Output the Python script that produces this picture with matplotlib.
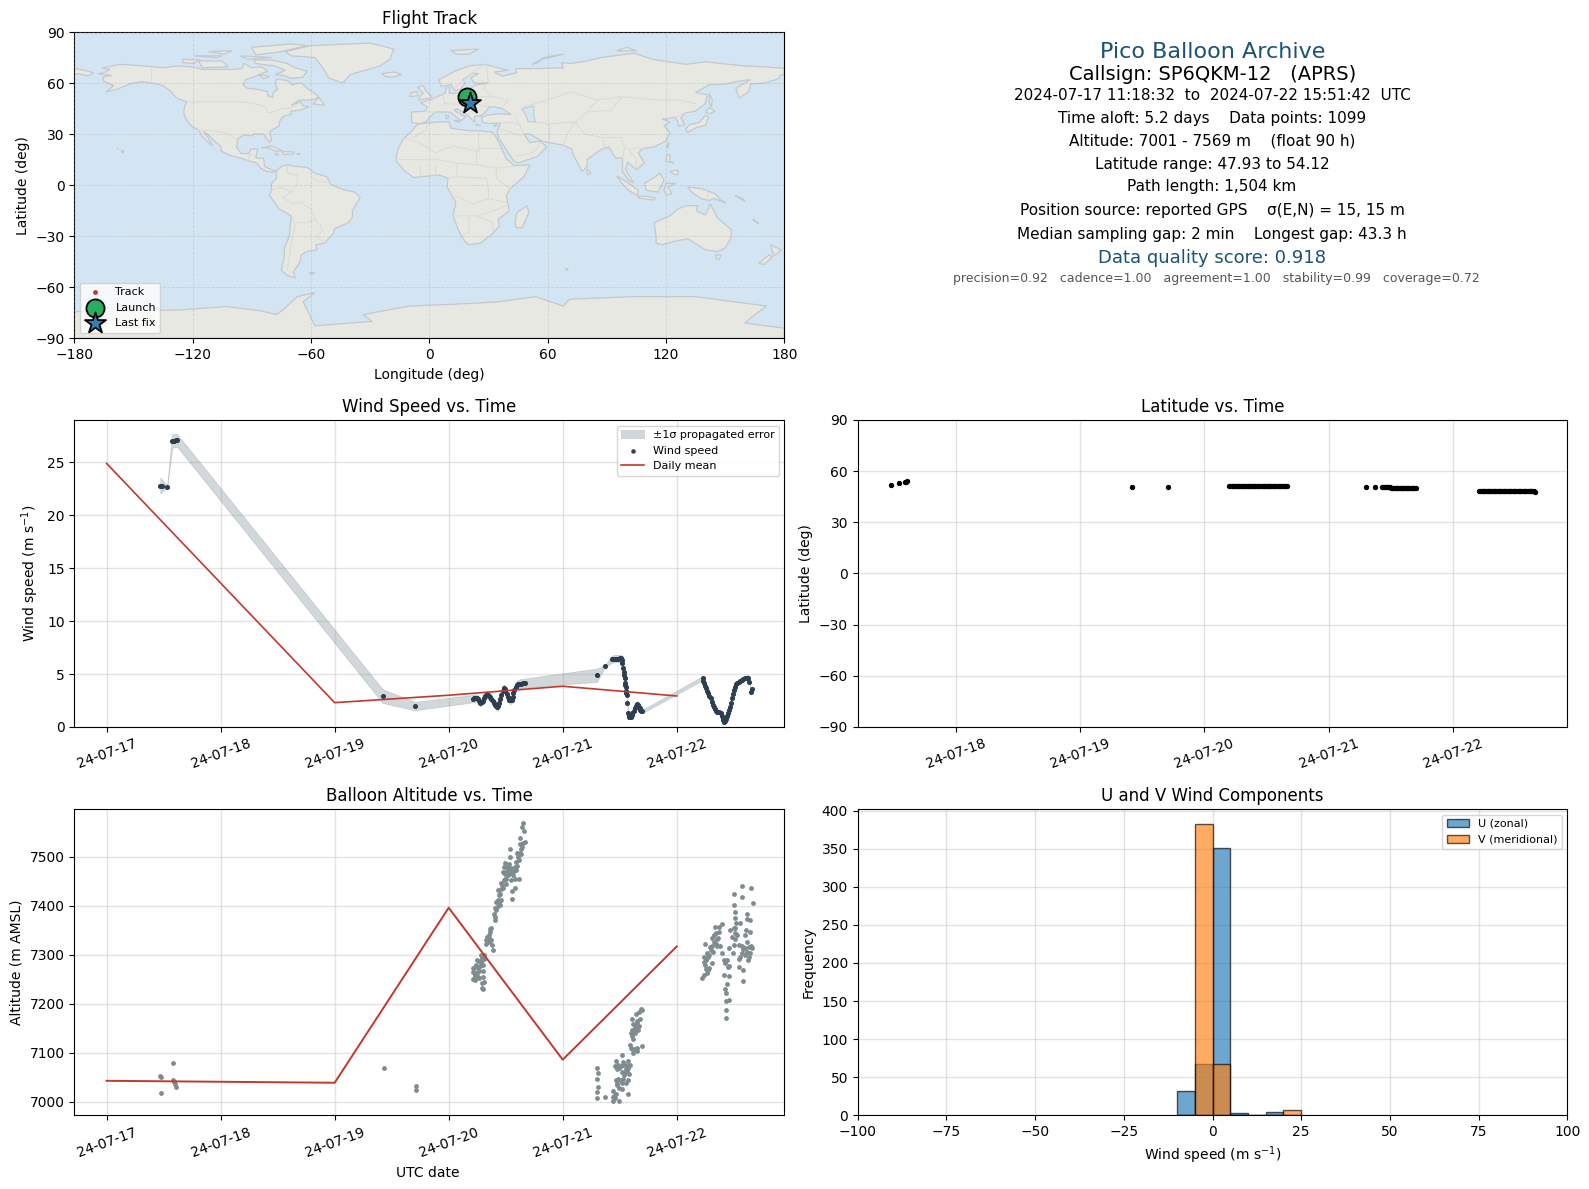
#!/usr/bin/python
'''
Flight summary sheet for a pico balloon
'''
from datetime import datetime
import numpy as np
import matplotlib
matplotlib.use('Agg')
import matplotlib.pyplot as plt
import matplotlib.dates as mdates

# Land outlines (lon, lat)
#==========================================================
north_america = [(-168,65.5),(-164,66.5),(-162,68),(-166,68.8),(-157,71),(-150,70.5),(-141,69.7),(-135,69),(-128,70),
    (-120,69.5),(-115,68),(-108,68),(-100,68),(-95,68.5),(-94,71.5),(-90,69),(-85,69.5),(-82,67),(-87,64.5),(-93,62),
    (-94.5,59),(-92.5,57),(-88,56.5),(-82,55),(-82,52.5),(-79.5,51.5),(-79,54.5),(-76.8,56.5),(-78,58.8),(-77.5,62.4),
    (-72,61.5),(-69.5,59),(-65,60.2),(-61.5,56.5),(-57,53),(-56,51.5),(-60,50),(-66,50),(-70,47),(-65,49),(-64.5,47),
    (-61,46),(-66,44),(-70,43.5),(-70,41.7),(-74,40.5),(-76,37.5),(-76,35),(-81,31.5),(-80,26.5),(-81,25.2),(-82.8,28),
    (-84,30),(-89,30.2),(-90,29),(-94,29.5),(-97,27.5),(-97.8,22.5),(-95.5,18.7),(-91.5,18.5),(-90.5,21),(-87,21.5),
    (-88,16),(-84,15.8),(-83.5,11),(-80,9),(-77.5,8.5),(-79.5,7.5),(-83,8.3),(-85.5,10),(-87.5,13),(-92,14.5),(-96,16),
    (-101,17.5),(-105.5,20),(-105.5,22.5),(-109,26),(-112.5,30),(-114.5,31.5),(-112,27.5),(-109.8,23),(-112,25),
    (-115,28.5),(-117,32.5),(-120.5,34.5),(-123.8,39.5),(-124.5,43),(-124,46.5),(-123,49),(-128,51),(-131,55),
    (-135,58.5),(-140,60),(-146,60.8),(-152,59.5),(-158,56.5),(-164,54.7),(-160,58.5),(-165,61),(-165.5,63.5),(-161,64.5)]
south_america = [(-77.5,8.5),(-75,11),(-72,12),(-68,11),(-62,10.5),(-58,7),(-52,5),(-50,0.5),(-44,-2.5),(-38,-4),(-35,-7),
    (-39,-15),(-39,-19),(-41,-22),(-48,-25.5),(-48.5,-28),(-53,-34),(-57.5,-35),(-57,-38),(-62,-39),(-65,-41),(-65.5,-45),
    (-69,-51),(-68,-54.5),(-72,-53),(-75,-50),(-73.5,-42),(-73.5,-37),(-71,-30),(-70,-18),(-76,-14),(-81,-6),(-80,-2.5),
    (-80,1),(-77.5,4)]
africa = [(-6,35.8),(3,37),(10,37.3),(11,33.5),(20,32),(25,32),(32,31.2),(34,28),(37,21),(39,15.5),(43,11.5),(51,12),(48,5),
    (41,-2),(39,-6),(40.5,-15),(35,-20),(35.5,-24),(32.5,-28),(26,-34),(20,-35),(18,-33),(15,-27),(12,-18),(13.5,-10),
    (9,-1),(9.5,4),(5,6),(-4,5),(-8,4.5),(-13,9),(-17,14.5),(-16,21),(-13,27.5),(-9.5,31)]
eurasia = [(-9,37),(-9,43),(-2,43.5),(-1,46),(-4.5,48.5),(1.5,50.5),(4,52),(8,54),(8.5,57),(10.5,57.5),(10,54),(14,54),
    (19,54.5),(21,57),(24,59),(30,60),(23,60),(21,63),(25,65.5),(22,65.8),(17,62),(18,60),(16,56.5),(13,55.5),(11,59),
    (6,58),(5,62),(13,67),(20,70),(28,71),(40,67.5),(33,66.5),(37,64),(44,66),(44,68.5),(55,68.5),(68,69),(67,72),(72,71.5),
    (80,73),(87,75),(104,77.5),(113,74),(130,71),(140,72.5),(160,70),(170,69.5),(180,68.7),(180,65),(178,64.5),(177,62.5),
    (170,60),(163,59.5),(162,55),(157,51),(155.5,57),(163,62),(156,61),(150,59.3),(142,59),(135,54.5),(141,53),(140,48),
    (135,43.5),(130,42.5),(127.5,39.5),(129.5,36),(126.5,34.5),(126,37.5),(124.5,40),(121,39),(118,39),(122,37),(119,35),
    (122,31),(120,26),(114,22.5),(108,21.5),(106,19),(109,13),(105,9),(103,11),(100.5,13.5),(99.5,9),(103.5,1.5),(101,3),
    (98,8),(98,16),(94.5,16),(91,22.5),(87,21),(80,15),(80,11),(77.5,8),(73,18),(72.5,21),(68,23.5),(61,25),(57,26),(51,30),
    (48,30),(51,25),(56,26),(59.5,22.5),(55,17),(45,13),(43,14),(39,21),(35,28),(34.5,31.5),(36,36.5),(30,36.3),(27,37),
    (26.5,40),(29,41),(35,42),(41.5,41.5),(37,45),(33.5,46),(30.5,46),(28,42.5),(26,40.7),(23,40.5),(23,37),(19.5,41),
    (14,45),(12.5,44),(18.5,40),(16,38),(10.5,43),(3,43),(0,39.5),(-2,37),(-5.5,36)]
chukotka = [(-180,68.7),(-175,67.5),(-170,66),(-173,64.3),(-178,65.5),(-180,65)]
australia = [(114,-22),(122,-18),(126,-14),(130,-12),(136,-12),(135.5,-15),(140,-17.5),(142.5,-11),(146,-19),(153,-26),
    (153,-31),(150,-37),(146,-39),(140,-38),(136,-35),(131,-31.5),(124,-33),(118,-35),(115,-34),(115,-30)]
greenland = [(-73,78.5),(-60,82),(-30,83.5),(-18,80),(-20,74),(-25,70),(-40,65),(-44,60),(-51,63),(-54,69),(-58,75),(-70,76)]
antarctica = [(-180,-74.3),(-126.5,-73.3),(-103,-71.3),(-86,-73.7),(-77.5,-76),(-74,-73),(-67,-65.5),(-58,-63),(-64,-68.4),
    (-62,-73),(-58,-82.6),(-29,-80),(-33.5,-76),(-10,-71),(0,-70.5),(12,-70),(34,-68.6),(54,-65.5),(68,-71),(71,-67),
    (103,-65.5),(135,-65.5),(171,-71),(164,-77),(160,-81),(180,-84),(180,-90),(-180,-90)]
islands = [
    [(-80,73.5),(-72,71.5),(-68,69),(-62,67),(-64,63.5),(-70,62.8),(-74,64.5),(-78,65),(-73,67.5),(-78,70),(-88,71.5),(-89,73.5)],
    [(-117,73),(-105,73),(-102,69.5),(-115,69)],
    [(-125,74),(-116,73.5),(-120,71.5),(-125,72)],
    [(-90,81),(-70,83),(-62,82),(-75,78.5),(-88,76.5)],
    [(-96,76),(-80,75),(-92,74)],
    [(-119,76),(-105,76),(-108,75)],
    [(-112,78.5),(-100,79),(-104,77)],
    [(-87,65),(-81,64),(-84,62.5)],
    [(-59,47.7),(-56,51.5),(-53,47)],
    [(-24,65.5),(-18,66.5),(-14,65),(-19,63.4),(-22.5,64)],
    [(-85,22),(-80,23),(-74.5,20.2),(-78,20),(-82,22)],
    [(-74.5,19.8),(-69,19.5),(-68.5,18.3),(-74,18)],
    [(-78.3,18.4),(-76.3,18.2),(-77,17.7)],
    [(-67.2,18.5),(-65.6,18.4),(-66.5,17.9)],
    [(-156,20.7),(-154.8,19.6),(-155.8,19)],
    [(-158.2,21.6),(-157.7,21.3),(-158,21.2)],
    [(-61,-51.5),(-58,-51.3),(-59,-52.3)],
    [(-5.5,50),(1.5,51.5),(0,53.5),(-2,56),(-3,58.5),(-6,57.5),(-3,54),(-5,52)],
    [(-10,52),(-6,52.5),(-6,55),(-9,54.5)],
    [(11,79),(25,80),(20,77),(14,77)],
    [(52,71),(57,74),(68,77),(58,75),(55,72)],
    [(95,79),(105,79),(100,81)],
    [(142,54),(143.5,50),(143,46),(142,48)],
    [(130,33),(131,31),(135.5,34),(140,35),(141.5,40),(140,41),(137,37),(132,35.5)],
    [(140,43),(142,45.5),(145,43.5),(142,42)],
    [(120.2,23),(121.5,25),(121,22)],
    [(120.5,18),(122,18),(122,14),(124,13),(120,14)],
    [(122,8),(126,9),(126,6),(124,6.5)],
    [(109,1),(114,4.5),(117,7),(119,3),(116,-4),(110,-3)],
    [(95,5.5),(100,2),(106,-3),(105.5,-6),(101,-3),(97,2)],
    [(105.5,-6.5),(110,-6.5),(114.5,-7.5),(114,-8.7),(106,-7.5)],
    [(120,1),(125,1),(121,-1),(123,-5),(120,-5.5),(119,-3)],
    [(131,-1),(138,-2),(145,-5),(148,-9),(150.5,-10.5),(144,-7.7),(142,-9),(138,-8),(133,-4)],
    [(155,-6),(157,-7.5),(160,-9.5),(159,-8)],
    [(164,-20),(167,-22.5),(166,-22)],
    [(80,9.5),(82,7),(80.5,6),(79.8,8)],
    [(145,-41),(148,-41),(147,-43.5),(146,-43.5)],
    [(173,-35),(178.5,-38),(175,-41.5),(174,-39)],
    [(172.5,-41),(174,-42),(170,-46.5),(167,-46),(171,-42)],
    [(49.5,-12),(50.5,-16),(47,-25),(44,-25),(43.5,-21),(44.5,-16)],
    [(69,-49),(70.5,-49.2),(69.5,-50)],
    [(32.5,35),(34.5,35.5),(33.5,34.6)],
    [(23.5,35.5),(26,35.2),(24.5,35)],
    [(12.5,38),(15.5,38),(15,36.8)],
    [(8.3,41),(9.7,41),(9.5,39.2),(8.5,39)],
]
inland_water = [[(47,45),(53,46.5),(53,40),(54,37),(50,37.5),(49,41)]]
borders = [
    [(-123,49),(-95,49),(-89,48),(-83,46),(-82,42.5),(-79,43),(-75,45),(-70,45.5),(-67,47.5)],
    [(-141,69.7),(-141,60)],
    [(-117,32.5),(-106,31.7),(-101,29.5),(-97.5,26)],
    [(-92,14.5),(-91,17.8),(-89,17.8)],
    [(-72,12),(-72,7),(-67,6),(-67,1),(-70,-4),(-74,-7),(-70,-11),(-65,-10),(-60,-14),(-58,-20),(-55,-24),(-54,-27),(-57.5,-30),(-53,-34)],
    [(-80,-3),(-75,-1),(-70,-4)],
    [(-70,-18),(-68,-23),(-70,-33),(-71,-42),(-72,-50)],
    [(-60,8),(-60,5),(-56,2),(-52,2)],
    [(-58,-20),(-62,-22),(-67,-22)],
    [(-9,27.5),(-2,32),(-1,35)],
    [(-13,27.5),(-5,25),(3,19),(12,23),(25,20),(25,32)],
    [(25,22),(36,22)],
    [(-17,15),(-5,15),(4,15),(14,13),(24,12),(24,20)],
    [(14,13),(14,5),(9.5,4)],
    [(24,12),(34,10),(42,11)],
    [(34,10),(34,4),(41,-2)],
    [(14,5),(29,4),(30,-1),(30,-8),(39,-10)],
    [(13,-6),(22,-11),(30,-8)],
    [(12,-18),(24,-18),(33,-15),(40.5,-11)],
    [(20,-18),(20,-28),(17,-29)],
    [(24,-18),(32,-22),(32.5,-27)],
    [(-4,5),(-5,11)],
    [(3,6),(3,12)],
    [(6,47),(8,48),(7,53)],
    [(-2,43.5),(3,42.5)],
    [(14,54),(15,51),(19,49.5),(24,49),(24,52),(23,54)],
    [(8,48),(13,47.5),(17,48),(22,48),(30,46)],
    [(24,52),(32,52),(40,50),(38,47)],
    [(28,59),(28,56),(32,52)],
    [(30,60),(29,70)],
    [(12,56),(24,68),(28,71)],
    [(48,46),(60,50),(72,55),(85,50),(98,52),(115,50),(128,50),(135,48)],
    [(54,37),(61,36),(61,30),(61,25)],
    [(61,36),(70,37),(74,37)],
    [(74,37),(70,30),(68,23.5)],
    [(74,37),(79,30),(88,28),(97,28),(99,22),(101,21),(106,22),(108,21.5)],
    [(88,28),(89,22)],
    [(85,50),(80,43),(74,37)],
    [(98,52),(92,44),(80,43)],
    [(99,22),(98,16)],
    [(101,21),(105,15),(105,10)],
    [(36,36.5),(42,37),(46,35),(48,30)],
    [(44,39),(46,35)],
    [(36,33),(39,32),(47,29)],
    [(52,19),(55,22),(56,25)],
    [(43,17),(52,19)],
    [(130,42.5),(125,40)],
    [(141,-2.6),(141,-9)],
]

# Flight data
#==========================================================
launch_lon, launch_lat = 19.0, 52.0
last_lon, last_lat = 20.6, 48.2
track_lon = [19.0, 19.5, 20.0, 20.6]
track_lat = [52.0, 51.0, 49.5, 48.2]

# (day of July 2024 UTC, speed, sigma)
wind_early = [(17.471,22.8,0.75),(17.478,22.8,0.7),(17.487,22.8,0.55),(17.531,22.7,0.12),(17.575,27.0,0.65),(17.59,27.05,0.65),
    (17.605,27.07,0.6),(17.619,27.07,0.6),(19.421,2.92,0.65),(19.703,1.98,0.4)]
wind_day20 = [(20.211,2.68,0.35),(20.222,2.72,0.35),(20.234,2.74,0.35),(20.245,2.72,0.35),(20.255,2.68,0.35),(20.267,2.48,0.35),
    (20.278,2.30,0.35),(20.288,2.36,0.35),(20.299,2.49,0.35),(20.309,2.72,0.35),(20.319,2.97,0.35),(20.331,3.03,0.35),
    (20.343,3.03,0.35),(20.353,2.94,0.35),(20.363,2.81,0.35),(20.375,2.66,0.35),(20.387,2.49,0.35),(20.398,2.28,0.35),
    (20.41,2.08,0.35),(20.419,1.94,0.35),(20.428,1.86,0.35),(20.436,1.98,0.35),(20.445,2.24,0.35),(20.454,2.62,0.35),
    (20.463,3.03,0.35),(20.472,3.36,0.35),(20.481,3.66,0.35),(20.49,3.6,0.35),(20.498,3.44,0.35),(20.507,3.16,0.35),
    (20.516,2.87,0.35),(20.525,2.68,0.35),(20.533,2.56,0.35),(20.542,2.52,0.35),(20.551,2.56,0.35),(20.56,2.84,0.35),
    (20.568,3.19,0.35),(20.577,3.52,0.38),(20.586,3.82,0.4),(20.597,3.96,0.4),(20.609,4.04,0.4),(20.622,4.08,0.42),
    (20.636,4.10,0.42),(20.65,4.13,0.42),(20.665,4.16,0.42)]
wind_day21 = [(21.301,4.89,0.63),(21.371,5.77,0.1),(21.433,6.40,0.35),(21.445,6.44,0.35),(21.456,6.47,0.35),(21.47,6.47,0.35),
    (21.485,6.47,0.35),(21.498,6.5,0.3),(21.512,6.53,0.3),(21.518,6.34,0.25),(21.524,6.03,0.2),(21.53,5.6,0.2),(21.535,5.24,0.2),
    (21.541,4.92,0.15),(21.544,4.61,0.15),(21.547,4.20,0.15),(21.55,4.0,0.15),(21.553,3.82,0.15),(21.556,3.44,0.15),
    (21.559,3.2,0.15),(21.562,3.03,0.15),(21.565,2.24,0.15),(21.573,1.29,0.1),(21.578,1.1,0.1),(21.582,0.98,0.1),(21.59,0.95,0.1),
    (21.597,0.98,0.1),(21.604,1.1,0.1),(21.611,1.29,0.1),(21.622,1.55,0.1),(21.632,1.77,0.1),(21.642,2.0,0.1),(21.652,2.18,0.1),
    (21.66,2.05,0.1),(21.667,1.92,0.1),(21.675,1.75,0.1),(21.682,1.61,0.1),(21.69,1.55,0.12),(21.699,1.48,0.15)]
wind_day22 = [(22.227,4.61,0.2),(22.233,4.38,0.2),(22.239,4.13,0.2),(22.247,3.9,0.15),(22.256,3.66,0.15),(22.266,3.42,0.15),
    (22.277,3.19,0.15),(22.287,2.95,0.15),(22.297,2.71,0.15),(22.306,2.4,0.15),(22.315,2.08,0.15),(22.323,1.86,0.15),
    (22.332,1.67,0.15),(22.344,1.55,0.15),(22.356,1.45,0.15),(22.37,1.37,0.15),(22.385,1.29,0.15),(22.394,1.05,0.15),
    (22.403,0.82,0.15),(22.408,0.65,0.15),(22.414,0.50,0.15),(22.423,0.6,0.15),(22.432,0.73,0.15),(22.44,1.0,0.15),
    (22.449,1.29,0.15),(22.458,1.6,0.15),(22.467,1.92,0.15),(22.476,2.3,0.15),(22.485,2.71,0.15),(22.494,3.1,0.15),
    (22.502,3.50,0.15),(22.511,3.8,0.15),(22.52,4.07,0.15),(22.531,4.2,0.15),(22.543,4.29,0.15),(22.556,4.38,0.2),
    (22.57,4.45,0.2),(22.585,4.53,0.2),(22.599,4.61,0.2),(22.613,4.65,0.25),(22.628,4.67,0.25),(22.637,4.29,0.2),
    (22.649,3.34,0.15),(22.663,3.56,0.15)]
mean_wind_day = [17, 19, 20, 21, 22]
mean_wind = [24.9, 2.3, 3.0, 3.85, 2.93]

# (day, latitude)
lat_early = [(17.477,52.0),(17.54,53.0),(17.59,53.6),(17.60,53.9),(17.61,54.12),(19.42,50.7),(19.71,50.6)]
lat_day20 = [(20.20,51.4),(20.21,51.4),(20.22,51.4),(20.23,51.4),(20.24,51.4),(20.25,51.4),(20.26,51.4),(20.27,51.4),(20.28,51.4),
    (20.29,51.4),(20.30,51.4),(20.31,51.4),(20.32,51.4),(20.33,51.4),(20.34,51.4),(20.35,51.4),(20.36,51.4),(20.37,51.4),
    (20.38,51.4),(20.39,51.4),(20.40,51.4),(20.41,51.4),(20.42,51.4),(20.43,51.4),(20.44,51.4),(20.45,51.4),(20.46,51.4),
    (20.47,51.4),(20.48,51.4),(20.49,51.4),(20.50,51.4),(20.51,51.3),(20.52,51.3),(20.53,51.3),(20.54,51.3),(20.55,51.3),
    (20.56,51.3),(20.57,51.3),(20.58,51.3),(20.59,51.3),(20.60,51.3),(20.61,51.3),(20.62,51.3),(20.63,51.3),(20.64,51.3),
    (20.65,51.3),(20.665,51.3)]
lat_day21 = [(21.30,50.8),(21.37,50.8),(21.43,50.8),(21.44,50.8),(21.45,50.8),(21.46,50.8),(21.47,50.7),(21.48,50.7),(21.49,50.7),
    (21.50,50.3),(21.51,50.3),(21.52,50.3),(21.53,50.3),(21.54,50.3),(21.55,50.3),(21.56,50.3),(21.57,50.3),(21.58,50.3),
    (21.59,50.3),(21.60,50.3),(21.61,50.3),(21.62,50.3),(21.63,50.3),(21.64,50.3),(21.65,50.3),(21.66,50.3),(21.67,50.3),
    (21.68,50.3),(21.69,50.3),(21.70,50.3)]
lat_day22 = [(22.21,48.5),(22.22,48.5),(22.23,48.5),(22.24,48.5),(22.25,48.5),(22.26,48.5),(22.27,48.5),(22.28,48.5),(22.29,48.5),
    (22.30,48.5),(22.31,48.5),(22.32,48.5),(22.33,48.5),(22.34,48.5),(22.35,48.5),(22.36,48.5),(22.37,48.5),(22.38,48.5),
    (22.39,48.5),(22.40,48.5),(22.41,48.5),(22.42,48.5),(22.43,48.5),(22.44,48.5),(22.45,48.5),(22.46,48.5),(22.47,48.5),
    (22.48,48.5),(22.49,48.5),(22.50,48.5),(22.51,48.5),(22.52,48.5),(22.53,48.5),(22.54,48.5),(22.55,48.5),(22.56,48.5),
    (22.57,48.5),(22.58,48.5),(22.59,48.5),(22.60,48.5),(22.61,48.5),(22.62,48.5),(22.63,48.5),(22.64,48.4),(22.65,48.4),
    (22.66,47.93)]

alt_early = [(17.47,7053),(17.475,7050),(17.48,7018),(17.58,7080),(17.585,7045),(17.6,7037),(17.61,7031),(17.595,7040),
    (19.43,7070),(19.71,7033),(19.71,7025)]
alt_day20 = [(20.299,7230),(20.293,7232),(20.293,7243),(20.308,7245),(20.270,7252),(20.299,7254),(20.217,7251),(20.235,7249),
    (20.235,7259),(20.211,7264),(20.211,7273),(20.229,7276),(20.255,7273),(20.270,7266),(20.299,7266),(20.240,7279),
    (20.246,7289),(20.264,7288),(20.284,7286),(20.293,7293),(20.284,7300),(20.314,7300),(20.308,7291),(20.328,7323),
    (20.323,7330),(20.334,7337),(20.352,7340),(20.364,7347),(20.367,7355),(20.372,7331),(20.387,7310),(20.378,7320),
    (20.352,7327),(20.343,7333),(20.402,7371),(20.396,7384),(20.416,7391),(20.422,7398),(20.446,7401),(20.431,7411),
    (20.460,7411),(20.416,7408),(20.440,7421),(20.431,7432),(20.455,7435),(20.475,7437),(20.460,7447),(20.481,7452),
    (20.504,7455),(20.557,7413),(20.551,7430),(20.578,7437),(20.616,7455),(20.578,7455),(20.548,7452),(20.519,7462),
    (20.490,7464),(20.475,7469),(20.481,7479),(20.490,7487),(20.528,7486),(20.519,7476),(20.540,7469),(20.563,7462),
    (20.587,7472),(20.598,7482),(20.616,7493),(20.607,7499),(20.598,7507),(20.540,7516),(20.534,7499),(20.636,7506),
    (20.636,7516),(20.651,7528),(20.622,7526),(20.628,7539),(20.645,7520),(20.666,7530),(20.660,7553),(20.645,7560),
    (20.651,7568),(20.490,7455),(20.504,7469),(20.510,7480),(20.530,7465),(20.545,7478),(20.555,7470),(20.500,7445),
    (20.305,7280),(20.275,7278),(20.222,7265),(20.227,7258),(20.245,7262),(20.260,7255),(20.625,7508),(20.612,7505),
    (20.590,7490),(20.580,7480),(20.570,7470),(20.440,7405),(20.450,7425),(20.470,7443),(20.410,7378),(20.405,7395),
    (20.360,7352),(20.355,7335)]
alt_day21 = [(21.302,7070),(21.311,7059),(21.302,7047),(21.311,7031),(21.302,7020),(21.302,7007),(21.372,7009),(21.443,7022),
    (21.443,7002),(21.452,7011),(21.466,7016),(21.457,7007),(21.437,7009),(21.496,7002),(21.472,7034),(21.496,7029),
    (21.516,7027),(21.575,7017),(21.466,7045),(21.487,7046),(21.507,7045),(21.531,7046),(21.554,7039),(21.575,7044),
    (21.478,7039),(21.516,7039),(21.537,7054),(21.516,7061),(21.545,7061),(21.566,7063),(21.584,7056),(21.554,7068),
    (21.575,7070),(21.589,7076),(21.575,7083),(21.525,7081),(21.522,7095),(21.466,7083),(21.457,7073),(21.487,7076),
    (21.507,7073),(21.531,7076),(21.554,7076),(21.496,7070),(21.478,7068),(21.589,7117),(21.619,7100),(21.633,7107),
    (21.604,7107),(21.648,7103),(21.595,7110),(21.654,7110),(21.698,7114),(21.619,7128),(21.604,7134),(21.595,7141),
    (21.604,7147),(21.633,7151),(21.619,7158),(21.663,7147),(21.672,7155),(21.648,7161),(21.677,7169),(21.604,7169),
    (21.642,7180),(21.672,7183),(21.692,7187),(21.686,7189),(21.633,7141),(21.64,7155),(21.655,7165),(21.625,7145)]
alt_day22 = [(22.22,7252),(22.235,7258),(22.264,7262),(22.249,7279),(22.279,7273),(22.308,7283),(22.235,7296),(22.264,7303),
    (22.249,7323),(22.308,7317),(22.323,7327),(22.352,7333),(22.367,7347),(22.396,7363),(22.337,7357),(22.367,7357),
    (22.381,7317),(22.396,7303),(22.411,7289),(22.455,7278),(22.425,7283),(22.411,7259),(22.455,7256),(22.44,7241),
    (22.543,7276),(22.581,7268),(22.578,7247),(22.455,7208),(22.434,7205),(22.431,7188),(22.431,7171),(22.499,7425),
    (22.572,7440),(22.651,7436),(22.572,7418),(22.666,7405),(22.499,7401),(22.513,7388),(22.616,7384),(22.616,7374),
    (22.645,7371),(22.557,7364),(22.513,7354),(22.469,7350),(22.484,7337),(22.513,7333),(22.645,7347),(22.601,7340),
    (22.616,7327),(22.499,7320),(22.455,7314),(22.543,7320),(22.572,7317),(22.601,7313),(22.66,7314),(22.645,7303),
    (22.63,7296),(22.572,7303),(22.557,7296),(22.493,7304),(22.543,7291),(22.24,7285),(22.255,7290),(22.27,7295),
    (22.285,7300),(22.3,7310),(22.315,7305),(22.33,7340),(22.345,7345),(22.36,7335),(22.34,7322),(22.27,7268),(22.255,7272),
    (22.29,7315),(22.31,7335),(22.35,7318),(22.5,7355),(22.515,7345),(22.52,7365),(22.53,7340),(22.51,7375),(22.62,7305),
    (22.63,7315),(22.6,7300),(22.585,7312),(22.65,7318),(22.61,7350),(22.625,7290),(22.44,7290),(22.45,7275),(22.425,7230),
    (22.43,7222)]
mean_alt_day = [17, 19, 20, 21, 22]
mean_alt = [7043, 7039, 7396, 7086, 7317]

hist_edges = [-10, -5, 0, 5, 10, 15, 20, 25]
u_counts = [32, 68, 351, 3, 1, 4, 1]
v_counts = [0, 383, 68, 1, 1, 1, 7]

info_lines = [
    ('Pico Balloon Archive', 16, '#1a5276', 52, 1212.5),
    ('Callsign: SP6QKM-12   (APRS)', 14, 'black', 74, 1212.5),
    ('2024-07-17 11:18:32  to  2024-07-22 15:51:42  UTC', 11, 'black', 95, 1212.5),
    ('Time aloft: 5.2 days    Data points: 1099', 11, 'black', 118, 1212.5),
    ('Altitude: 7001 - 7569 m    (float 90 h)', 11, 'black', 141, 1212.5),
    ('Latitude range: 47.93 to 54.12', 11, 'black', 164, 1212.5),
    ('Path length: 1,504 km', 11, 'black', 187, 1212),
    ('Position source: reported GPS    \u03c3(E,N) = 15, 15 m', 11, 'black', 210, 1212.5),
    ('Median sampling gap: 2 min    Longest gap: 43.3 h', 11, 'black', 234, 1212),
    ('Data quality score: 0.918', 13, '#1a5276', 258, 1212.5),
    ('precision=0.92   cadence=1.00   agreement=1.00   stability=0.99   coverage=0.72', 9, '#555555', 279, 1216.5),
]

# Helpers
#==========================================================
W, H = 1589., 1189.

def px_axes(fig, x0, y0, x1, y1):
    return fig.add_axes([x0/W, 1-y1/H, (x1-x0)/W, (y1-y0)/H])

def to_dates(days):
    # days of July 2024 into matplotlib date numbers
    base = mdates.date2num(datetime(2024, 7, 1))
    return base + np.array(days, dtype=float) - 1.

def style_grid(ax):
    ax.grid(True, color='#b0b0b0', alpha=0.35, lw=1.0)
    ax.set_axisbelow(True)

def date_axis(ax, first, last):
    ax.set_xlim(to_dates(first), to_dates(last))
    ax.xaxis.set_major_locator(mdates.DayLocator())
    ax.xaxis.set_major_formatter(mdates.DateFormatter('%y-%m-%d'))
    for label in ax.get_xticklabels():
        label.set_rotation(20)

# Main
#==========================================================
fig = plt.figure(figsize=(W/100, H/100), dpi=100)

# Flight track map
ax = px_axes(fig, 74.3, 32.0, 784.3, 338.4)
ax.set_facecolor('#d3e5f2')
for shape in [north_america, south_america, africa, eurasia, chukotka, australia, greenland, antarctica] + islands:
    lons, lats = zip(*shape)
    ax.fill(lons, lats, fc='#e8e8e3', ec='#c3c9cc', lw=0.9, zorder=1)
for shape in inland_water:
    lons, lats = zip(*shape)
    ax.fill(lons, lats, fc='#d3e5f2', ec='#c3c9cc', lw=0.8, zorder=1.1)
for line in borders:
    lons, lats = zip(*line)
    ax.plot(lons, lats, color='#d9dbd8', lw=0.7, zorder=1.2)
ax.grid(True, ls='--', color='#a0a0a0', alpha=0.3, lw=0.6, zorder=2)
ax.set_axisbelow(False)
ax.scatter(track_lon, track_lat, s=6, color='#c0392b', zorder=3, label='Track')
ax.scatter([launch_lon], [launch_lat], s=170, color='#27ae60', edgecolor='k', lw=1.3, zorder=4, label='Launch')
ax.scatter([last_lon], [last_lat], s=250, marker='*', color='#2f7fb8', edgecolor='k', lw=1.3, zorder=5, label='Last fix')
ax.set_xlim(-180, 180)
ax.set_ylim(-90, 90)
ax.set_xticks(np.arange(-180, 181, 60))
ax.set_yticks(np.arange(-90, 91, 30))
ax.set_xlabel('Longitude (deg)', labelpad=4.5)
ax.set_ylabel('Latitude (deg)')
ax.set_title('Flight Track', fontsize=12)
ax.legend(loc='lower left', fontsize=8)

# Text summary
for text, size, color, py, px in info_lines:
    fig.text(px/W, 1-py/H, text, fontsize=size, color=color, ha='center', va='center')

# Wind speed
ax = px_axes(fig, 74.3, 420, 784.3, 727)
w_t, w_v, w_s = [np.array(col) for col in zip(*(wind_early + wind_day20 + wind_day21 + wind_day22))]
w_t = to_dates(w_t)
ax.fill_between(w_t, w_v-w_s, w_v+w_s, color='#7f9095', alpha=0.35, lw=0.5, label='\u00b11\u03c3 propagated error')
ax.scatter(w_t, w_v, s=7, color='#2c3e50', zorder=3, label='Wind speed')
ax.plot(to_dates(mean_wind_day), mean_wind, color='#c0392b', lw=1.2, zorder=4, label='Daily mean')
date_axis(ax, 16.717, 22.943)
ax.set_ylim(0, 29)
ax.set_yticks(np.arange(0, 26, 5))
ax.set_ylabel('Wind speed (m s$^{-1}$)')
ax.set_title('Wind Speed vs. Time', fontsize=12)
style_grid(ax)
leg = ax.legend(loc='upper right', fontsize=8)
leg.legend_handles[1].set_sizes([5])

# Latitude
ax = px_axes(fig, 857.7, 420, 1567.3, 727)
lat_t, lat_v = zip(*(lat_early + lat_day20 + lat_day21 + lat_day22))
ax.scatter(to_dates(lat_t), lat_v, s=8, color='k', zorder=3)
date_axis(ax, 17.211, 22.92)
ax.set_ylim(-90, 90)
ax.set_yticks(np.arange(-90, 91, 30))
ax.set_ylabel('Latitude (deg)')
ax.set_title('Latitude vs. Time', fontsize=12)
style_grid(ax)

# Altitude
ax = px_axes(fig, 74.3, 809, 784.3, 1115.3)
alt_points = alt_early + alt_day20 + alt_day21 + alt_day22
alt_t, alt_m = zip(*alt_points)
ax.scatter(to_dates(alt_t), alt_m, s=6, color='#7f8c8d', zorder=3)
ax.plot(to_dates(mean_alt_day), mean_alt, color='#c0392b', lw=1.4, zorder=4)
date_axis(ax, 16.717, 22.943)
ax.set_ylim(6972.6, 7597.4)
ax.set_yticks(np.arange(7000, 7501, 100))
ax.set_xlabel('UTC date', labelpad=4.5, x=0.4985)
ax.set_ylabel('Altitude (m AMSL)')
ax.set_title('Balloon Altitude vs. Time', fontsize=12)
style_grid(ax)

# U and V histogram
ax = px_axes(fig, 857.7, 809, 1567.3, 1115.3)
centers = 0.5*(np.array(hist_edges[:-1]) + np.array(hist_edges[1:]))
ax.hist(centers, bins=hist_edges, weights=u_counts, alpha=0.65, edgecolor='k', lw=1.0, color='tab:blue', label='U (zonal)')
ax.hist(centers, bins=hist_edges, weights=v_counts, alpha=0.65, edgecolor='k', lw=1.0, color='tab:orange', label='V (meridional)')
ax.set_xlim(-100, 100)
ax.set_ylim(0, 402.15)
ax.set_xlabel('Wind speed (m s$^{-1}$)')
ax.set_ylabel('Frequency')
ax.set_title('U and V Wind Components', fontsize=12)
style_grid(ax)
ax.legend(loc='upper right', fontsize=8)

fig.savefig('out.png', dpi=100)
